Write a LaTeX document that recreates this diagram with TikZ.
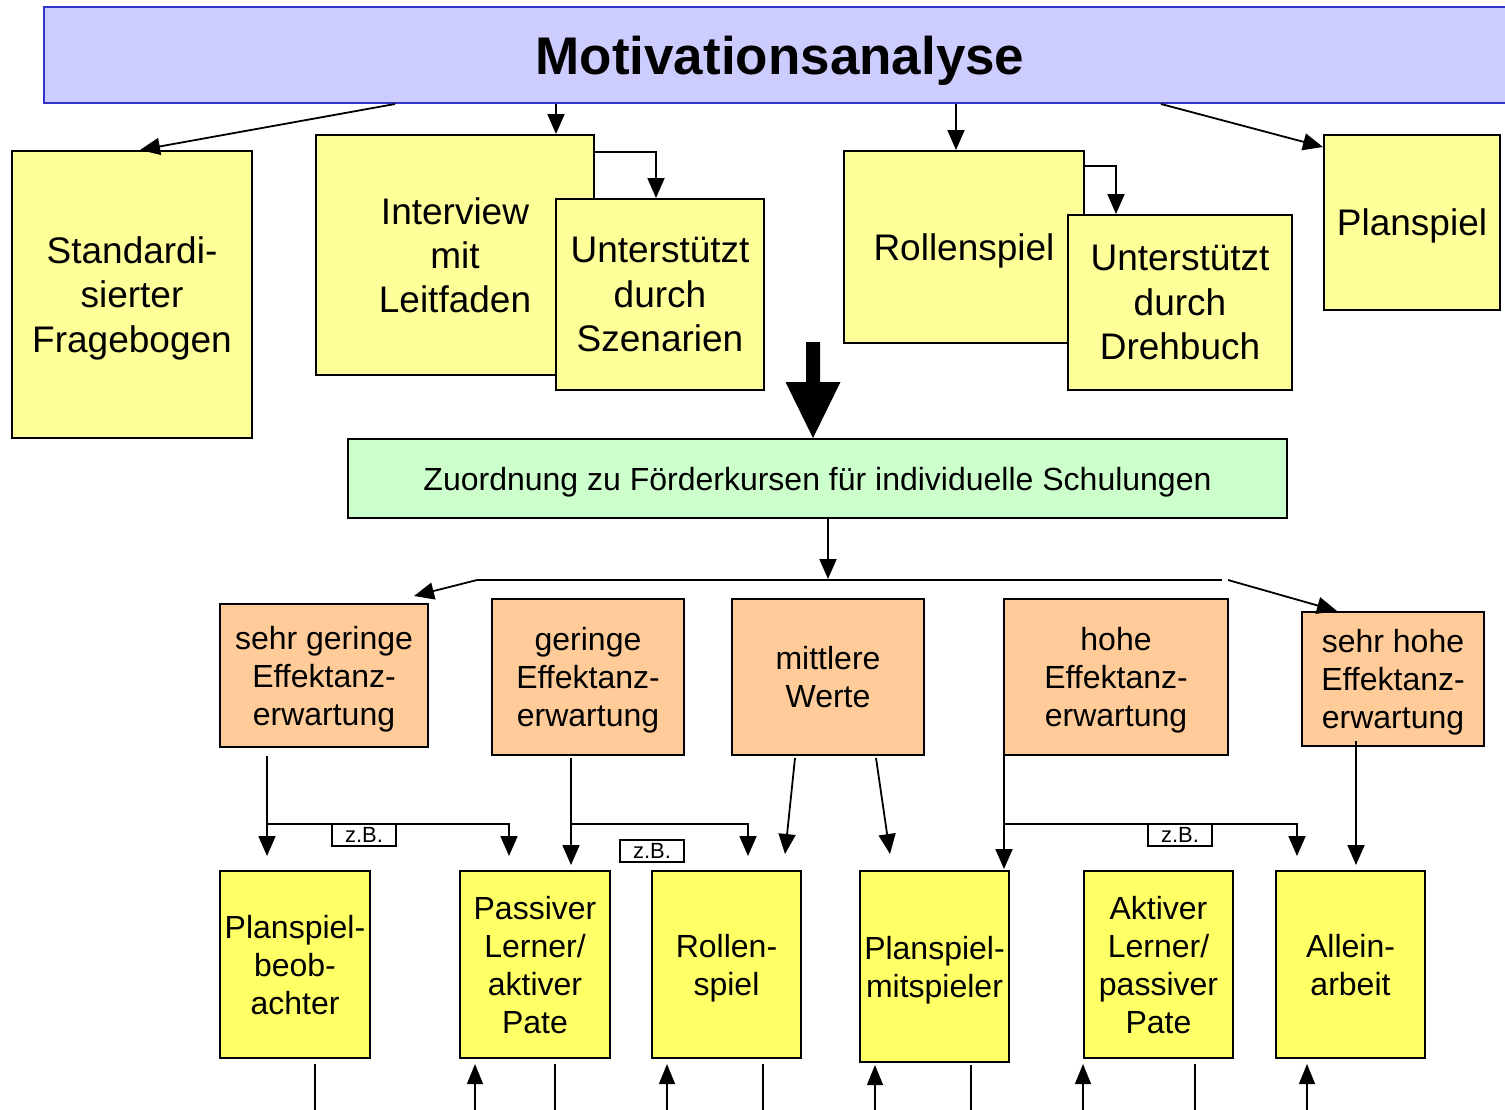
\documentclass[tikz,border=0pt]{standalone}
\usepackage{fontspec}
\setmainfont{Liberation Sans}
\usetikzlibrary{arrows.meta,calc}
\definecolor{titlefill}{HTML}{CCCCFF}
\definecolor{titleline}{HTML}{3333CC}
\definecolor{paleyellow}{HTML}{FFFF99}
\definecolor{palegreen}{HTML}{CCFFCC}
\definecolor{paleorange}{HTML}{FFCC99}
\definecolor{brightyellow}{HTML}{FFFF66}
\begin{document}
\begin{tikzpicture}[x=0.5pt,y=-0.5pt,
  box/.style={draw=black, line width=1pt, inner sep=0pt, align=center, text depth=0pt},
  bigbox/.style={box, fill=paleyellow, font=\fontsize{18.5}{22.2}\selectfont},
  levelbox/.style={box, fill=paleorange, font=\fontsize{16}{19}\selectfont},
  rolebox/.style={box, fill=brightyellow, font=\fontsize{16}{19}\selectfont},
  arr/.style={draw=black, line width=0.9pt, -{Triangle[length=10pt,width=8.5pt]}},
  conn/.style={draw=black, line width=0.9pt},
  thinline/.style={draw=black, line width=0.6pt},
  thinarr/.style={draw=black, line width=0.6pt, -{Triangle[length=10pt,width=8pt]}},
  zb/.style={draw=black, fill=white, line width=0.6pt, inner sep=0pt, minimum width=32pt, minimum height=11pt, font=\fontsize{11}{13}\selectfont},
]
\useasboundingbox (0,0) rectangle (1505,1109);
\clip (0,0) rectangle (1505,1109);
\fill[white] (0,0) rectangle (1505,1109);

% title
\node[draw=titleline, fill=titlefill, line width=1pt, minimum width=736pt, minimum height=48pt, inner sep=0pt, text depth=0pt,
  font=\fontsize{26.5}{32}\selectfont\bfseries] (title) at (780,55) {Motivationsanalyse};

% first row
\node[bigbox, minimum width=120pt, minimum height=143.5pt] (std) at (132,294.5) {Standardi-\\sierter\\Fragebogen};
\node[bigbox, minimum width=139pt, minimum height=120pt] (intv) at (455,255) {Interview\\mit\\Leitfaden};
\node[bigbox, minimum width=104pt, minimum height=95.5pt] (szen) at (660,294.5) {Unterstützt\\durch\\Szenarien};
\node[bigbox, minimum width=120pt, minimum height=96pt] (roll) at (964,247) {Rollenspiel};
\node[bigbox, minimum width=112pt, minimum height=87.5pt] (dreh) at (1180,302.5) {Unterstützt\\durch\\Drehbuch};
\node[bigbox, minimum width=88pt, minimum height=87.5pt] (plan) at (1412,222.5) {Planspiel};

% arrows from title
\draw[arr] ($(title.south west)+(352,0)$) -- ($(std.north)+(8,0)$);
\draw[arr] ($(title.south west)+(513,0)$) coordinate (t2) -- (t2 |- intv.north);
\draw[arr] ($(intv.north east)+(0,18)$) -| ($(szen.north)+(-4,0)$);
\draw[arr] ($(title.south west)+(913,0)$) coordinate (t4) -- (t4 |- roll.north);
\draw[arr] ($(roll.north east)+(0,16)$) -| ($(dreh.north)+(-64,0)$);
\draw[arr] ($(title.south west)+(1118,0)$) -- ($(plan.north west)+(0,13)$);

% green box and block arrow
\node[box, fill=palegreen, minimum width=469.5pt, minimum height=39.5pt, font=\fontsize{16}{19}\selectfont] (green) at (817.5,478.5)
  {Zuordnung zu Förderkursen für individuelle Schulungen};
\coordinate (bt) at ($(green.north)+(-4.5,0)$);
\fill[black] (bt) -- ++(-27.5,-56) -- ++(20.5,0) -- ++(0,-40) -- ++(14,0) -- ++(0,40) -- ++(20.5,0) -- cycle;

% level boxes
\node[levelbox, minimum width=104pt, minimum height=71.5pt] (sg) at (324,675.5) {sehr geringe\\Effektanz-\\erwartung};
\node[levelbox, minimum width=96pt, minimum height=78pt] (ge) at (588,677) {geringe\\Effektanz-\\erwartung};
\node[levelbox, minimum width=96pt, minimum height=78pt] (mi) at (828,677) {mittlere\\Werte};
\node[levelbox, minimum width=112pt, minimum height=78pt] (ho) at (1116,677) {hohe\\Effektanz-\\erwartung};
\node[levelbox, minimum width=91pt, minimum height=67pt] (sh) at (1393,679) {sehr hohe\\Effektanz-\\erwartung};

% distribution line
\coordinate (hl) at (477,580);
\coordinate (hr) at (1222,580);
\coordinate (hr2) at (1228,580);
\draw[arr] ($(green.south)+(10.5,0)$) coordinate (g1) -- ($(g1 |- hl)+(0,-1)$);
\draw[conn] (hl) -- (hr);
\draw[arr] (hl) -- ($(sg.north east)+(-15,-7)$);
\draw[arr] (hr2) -- ($(sh.north west)+(36,0)$);

% role boxes
\node[rolebox, minimum width=75pt, minimum height=93.5pt] (pb) at (295,964.5) {Planspiel-\\beob-\\achter};
\node[rolebox, minimum width=75pt, minimum height=93.5pt] (pl) at (535,964.5) {Passiver\\Lerner/\\aktiver\\Pate};
\node[rolebox, minimum width=74.5pt, minimum height=93.5pt] (rs) at (726.5,964.5) {Rollen-\\spiel};
\node[rolebox, minimum width=74.5pt, minimum height=95.5pt] (pm) at (934.5,966.5) {Planspiel-\\mitspieler};
\node[rolebox, minimum width=74.5pt, minimum height=93.5pt] (ak) at (1158.5,964.5) {Aktiver\\Lerner/\\passiver\\Pate};
\node[rolebox, minimum width=74.5pt, minimum height=93.5pt] (al) at (1350.5,964.5) {Allein-\\arbeit};

% connectors level -> role
\draw[arr] ($(sg.south west)+(48,8)$) coordinate (s1) -- ($(s1 |- pb.north)+(0,-14)$);
\draw[arr] ($(s1)+(0,68)$) -| ($(pl.north)+(-26,-14)$);
\node[zb] (zb1) at (364,835) {z.B.};

\draw[arr] ($(ge.south west)+(80,2)$) coordinate (s2) -- ($(s2 |- pl.north)+(0,-5)$);
\draw[arr] ($(s2)+(0,66)$) -| ($(rs.north)+(21.5,-14)$);
\node[zb] (zb2) at (652,851) {z.B.};

\draw[arr] ($(mi.south west)+(64,2)$) -- ($(rs.north east)+(-17,-16)$);
\draw[arr] ($(mi.south west)+(145,2)$) -- ($(pm.north west)+(31,-16)$);

\draw[arr] ($(ho.south west)+(1,-45)$) coordinate (s4) -- ($(s4 |- pm.north)+(0,-1)$);
\draw[arr] ($(s4)+(0,113)$) -| ($(al.north)+(-53.5,-14)$);
\node[zb] (zb3) at (1180,835) {z.B.};

\draw[arr] ($(sh.south)+(-37,-6)$) coordinate (s5) -- ($(s5 |- al.north)+(0,-5)$);

% bottom stubs
\coordinate (bot) at (0,1112);
\draw[thinline] ($(pb.south west)+(96,5)$) coordinate (b1) -- (b1 |- bot);
\draw[thinarr] ($(pl.south west)+(16,5)$) coordinate (b2) (b2 |- bot) -- (b2);
\draw[thinline] ($(pl.south west)+(96,5)$) coordinate (b3) -- (b3 |- bot);
\draw[thinarr] ($(rs.south west)+(16,5)$) coordinate (b4) (b4 |- bot) -- (b4);
\draw[thinline] ($(rs.south west)+(112,5)$) coordinate (b5) -- (b5 |- bot);
\draw[thinarr] ($(pm.south west)+(16,2)$) coordinate (b6) (b6 |- bot) -- (b6);
\draw[thinline] ($(pm.south west)+(112,2)$) coordinate (b7) -- (b7 |- bot);
\draw[thinarr] ($(ak.south west)+(0,5)$) coordinate (b8) (b8 |- bot) -- (b8);
\draw[thinline] ($(ak.south west)+(112,5)$) coordinate (b9) -- (b9 |- bot);
\draw[thinarr] ($(al.south west)+(32,5)$) coordinate (b10) (b10 |- bot) -- (b10);
\end{tikzpicture}
\end{document}
